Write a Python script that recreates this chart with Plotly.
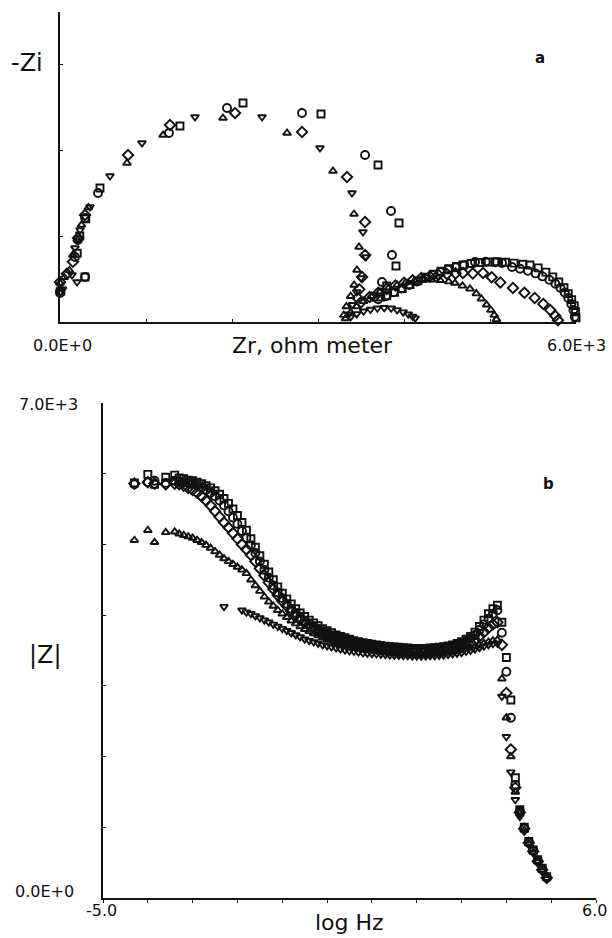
import plotly.graph_objects as go

# ---------------- Panel a : Nyquist (Zr, -Zi), ohm meter ----------------
ZR_CIRCLE = [0, 0, 291, 174, 209, 291, 442, 1267, 1942, 2814, 3547, 3849, 3860, 3744, 3651,
             3700, 3790, 3880, 3970, 4060, 4150, 4240, 4330, 4420, 4510, 4600, 4700, 4826, 4950,
             5060, 5140, 5256, 5350, 5440, 5530, 5610, 5690, 5760, 5820, 5870, 5910, 5945, 5970, 5985]
ZI_CIRCLE = [337, 360, 523, 756, 953, 1209, 1500, 2198, 2488, 2430, 1942, 1291, 779, 465, 291,
             265, 300, 345, 390, 430, 470, 510, 545, 580, 610, 635, 660, 698, 700,
             695, 686, 640, 620, 595, 565, 530, 490, 445, 395, 340, 280, 210, 140, 60]

ZR_SQUARE = [10, 291, 200, 230, 300, 465, 1395, 2128, 3035, 3698, 3942, 3907, 3800, 3730,
             3800, 3890, 3980, 4070, 4160, 4250, 4340, 4430, 4520, 4610, 4686, 4780, 4880, 4980,
             5080, 5180, 5280, 5380, 5465, 5560, 5650, 5730, 5800, 5860, 5910, 5950, 5980, 5995, 6000]
ZI_SQUARE = [360, 523, 800, 1000, 1200, 1558, 2279, 2547, 2419, 1826, 1151, 651, 420, 290,
             305, 345, 390, 435, 480, 520, 555, 590, 620, 645, 663, 680, 692, 698,
             700, 695, 685, 672, 663, 630, 580, 525, 465, 400, 330, 260, 190, 120, 50]

ZR_TRIUP = [0, 50, 110, 150, 200, 250, 330, 779, 1198, 1895, 2640, 3174, 3419, 3477, 3453, 3420,
            3380, 3330, 3300, 3320, 3380, 3450, 3530, 3620, 3720, 3820, 3920, 4020, 4120, 4220,
            4320, 4420, 4520, 4593, 4680, 4767, 4840, 4900, 4960, 5010, 5050, 5075]
ZI_TRIUP = [453, 520, 600, 780, 960, 1130, 1330, 1849, 2174, 2372, 2198, 1756, 1256, 872, 605, 430,
            300, 180, 80, 40, 110, 180, 240, 300, 350, 395, 430, 460, 480, 490,
            492, 485, 470, 453, 420, 385, 330, 270, 200, 140, 80, 30]

ZR_TRIDOWN = [30, 140, 198, 174, 233, 349, 581, 953, 1570, 2349, 3023, 3395, 3523, 3558, 3500,
              3450, 3400, 3360, 3380, 3450, 3530, 3610, 3690, 3770, 3850, 3920, 3990, 4050, 4100, 4130]
ZI_TRIDOWN = [380, 547, 465, 860, 1070, 1337, 1698, 2081, 2384, 2384, 2023, 1500, 1047, 756, 512,
              350, 200, 90, 60, 95, 125, 145, 160, 165, 160, 140, 115, 90, 65, 45]

ZR_DIAMOND = [0, 80, 150, 209, 291, 791, 1279, 2035, 2814, 3337, 3547, 3547, 3512, 3480, 3460,
              3500, 3600, 3700, 3800, 3900, 4000, 4100, 4200, 4300, 4400, 4500, 4600, 4686, 4800,
              4919, 5020, 5120, 5267, 5400, 5520, 5620, 5700, 5760, 5790]
ZI_DIAMOND = [465, 560, 700, 977, 1244, 1942, 2291, 2430, 2209, 1686, 1163, 779, 523, 380, 280,
              230, 290, 340, 385, 425, 455, 485, 510, 530, 548, 558, 565, 570, 565,
              570, 520, 460, 395, 340, 280, 210, 140, 70, 20]

# ---------------- Panel b : Bode |Z| vs log Hz ----------------
LOG_F = [-4.3, -4.0, -3.85, -3.6, -3.4,
         -3.3, -3.2, -3.1, -3.0,
         -2.9, -2.8, -2.7, -2.6, -2.5, -2.4, -2.3, -2.2, -2.1, -2.0,
         -1.9, -1.8, -1.7, -1.6, -1.5, -1.4, -1.3, -1.2, -1.1, -1.0,
         -0.9, -0.8, -0.7, -0.6, -0.5, -0.4, -0.3, -0.2, -0.1, 0.0,
         0.1, 0.2, 0.3, 0.4, 0.5, 0.6, 0.7, 0.8, 0.9, 1.0,
         1.1, 1.2, 1.3, 1.4, 1.5, 1.6, 1.7, 1.8, 1.9, 2.0,
         2.1, 2.2, 2.3, 2.4, 2.5, 2.6, 2.7, 2.8, 2.9, 3.0,
         3.1, 3.2, 3.3, 3.4, 3.5, 3.6, 3.7, 3.8, 3.9, 4.0,
         4.1, 4.2, 4.3, 4.4, 4.5, 4.6, 4.7, 4.8, 4.9]

MODZ_SQUARE = [5870, 5990, 5850, 5950, 5980,
               5940, 5930, 5910, 5900,
               5880, 5860, 5830, 5800, 5760, 5710, 5650, 5580, 5500, 5410,
               5310, 5200, 5080, 4960, 4840, 4720, 4610, 4500, 4400, 4310,
               4230, 4160, 4090, 4030, 3980, 3930, 3890, 3850, 3810, 3780,
               3750, 3720, 3700, 3680, 3660, 3640, 3625, 3610, 3600, 3590,
               3580, 3570, 3560, 3555, 3550, 3545, 3540, 3535, 3530, 3530,
               3530, 3530, 3535, 3540, 3545, 3555, 3565, 3580, 3600, 3625,
               3660, 3700, 3760, 3840, 3930, 4020, 4090, 4140, 3900, 3400,
               2800, 1700, 1250, 1000, 800, 680, 540, 420, 300]

MODZ_CIRCLE = [5850, 5880, 5900, 5870, 5900,
               5890, 5880, 5870, 5850,
               5830, 5800, 5770, 5730, 5680, 5620, 5550, 5470, 5380, 5290,
               5190, 5090, 4990, 4880, 4760, 4640, 4530, 4420, 4320, 4240,
               4160, 4090, 4030, 3970, 3920, 3880, 3840, 3800, 3770, 3740,
               3710, 3690, 3670, 3650, 3630, 3615, 3600, 3590, 3580, 3570,
               3560, 3550, 3540, 3535, 3530, 3525, 3520, 3515, 3510, 3510,
               3510, 3510, 3515, 3520, 3525, 3535, 3545, 3560, 3580, 3600,
               3630, 3670, 3720, 3790, 3870, 3950, 4020, 4070, 3750, 3200,
               2550, 1600, 1230, 990, 790, 670, 530, 410, 290]

MODZ_DIAMOND = [5860, 5880, 5860, 5850, 5860,
                5850, 5830, 5800, 5770,
                5730, 5680, 5620, 5550, 5470, 5390, 5310, 5240, 5160, 5080,
                5000, 4930, 4850, 4760, 4660, 4560, 4460, 4370, 4280, 4200,
                4130, 4060, 4000, 3940, 3890, 3850, 3810, 3770, 3740, 3710,
                3680, 3660, 3640, 3620, 3600, 3585, 3570, 3560, 3550, 3540,
                3530, 3520, 3510, 3505, 3500, 3495, 3490, 3485, 3480, 3480,
                3480, 3480, 3485, 3490, 3495, 3500, 3510, 3520, 3535, 3555,
                3580, 3610, 3650, 3700, 3760, 3820, 3870, 3900, 3580, 2900,
                2100, 1560, 1210, 980, 780, 660, 520, 400, 285]

MODZ_TRIUP = [5060, 5200, 5030, 5170, 5180,
              5150, 5130, 5110, 5090,
              5060, 5030, 4990, 4950, 4900, 4850, 4800, 4760, 4720, 4680,
              4640, 4590, 4500, 4420, 4340, 4260, 4190, 4130, 4070, 4020,
              3970, 3920, 3880, 3840, 3800, 3770, 3740, 3710, 3680, 3660,
              3640, 3620, 3600, 3585, 3570, 3555, 3540, 3530, 3520, 3510,
              3500, 3490, 3480, 3475, 3470, 3465, 3460, 3455, 3450, 3450,
              3450, 3450, 3455, 3460, 3465, 3470, 3475, 3485, 3495, 3505,
              3520, 3535, 3555, 3575, 3600, 3620, 3640, 3650, 3100, 2550,
              2000, 1500, 1200, 960, 770, 650, 520, 390, 280]

MODZ_TRIDOWN = [None, None, None, None, None,
                None, None, None, None,
                None, None, None, None, None, None, 4120, None, None, None,
                4070, 4040, 4020, 3990, 3960, 3930, 3900, 3870, 3840, 3810,
                3780, 3750, 3720, 3690, 3660, 3640, 3620, 3600, 3580, 3565,
                3550, 3535, 3520, 3505, 3495, 3485, 3475, 3465, 3460, 3455,
                3450, 3445, 3440, 3435, 3430, 3430, 3425, 3425, 3420, 3420,
                3420, 3420, 3425, 3425, 3430, 3435, 3440, 3450, 3460, 3470,
                3485, 3500, 3520, 3540, 3560, 3580, 3595, 3600, 2850, 2280,
                1780, 1390, 1150, 940, 760, 640, 510, 380, 270]

for a, b in [(ZR_CIRCLE, ZI_CIRCLE), (ZR_SQUARE, ZI_SQUARE), (ZR_TRIUP, ZI_TRIUP),
             (ZR_TRIDOWN, ZI_TRIDOWN), (ZR_DIAMOND, ZI_DIAMOND)]:
    assert len(a) == len(b), (len(a), len(b))
for m in [MODZ_SQUARE, MODZ_CIRCLE, MODZ_DIAMOND, MODZ_TRIUP, MODZ_TRIDOWN]:
    assert len(m) == len(LOG_F), (len(m), len(LOG_F))

W, H = 612, 938
FONT = "DejaVu Sans"
INK = "#111111"


def px(x):
    return x / W


def py(y):
    return 1 - y / H


series = [
    ("triangle-down-open", 7, ZR_TRIDOWN, ZI_TRIDOWN, MODZ_TRIDOWN),
    ("triangle-up-open", 7, ZR_TRIUP, ZI_TRIUP, MODZ_TRIUP),
    ("diamond-open", 8, ZR_DIAMOND, ZI_DIAMOND, MODZ_DIAMOND),
    ("circle-open", 8, ZR_CIRCLE, ZI_CIRCLE, MODZ_CIRCLE),
    ("square-open", 7, ZR_SQUARE, ZI_SQUARE, MODZ_SQUARE),
]

fig = go.Figure()
for sym, size, zr, zi, mz in series:
    mk = dict(symbol=sym, size=size, color=INK, line=dict(width=1.9, color=INK))
    fig.add_trace(go.Scatter(x=zr, y=zi, mode="markers", marker=mk, cliponaxis=False,
                             xaxis="x", yaxis="y", showlegend=False, hoverinfo="skip"))
    fig.add_trace(go.Scatter(x=LOG_F, y=mz, mode="markers", marker=mk, cliponaxis=False,
                             xaxis="x2", yaxis="y2", showlegend=False, hoverinfo="skip"))

axis_common = dict(showgrid=False, zeroline=False, showline=True, linecolor=INK,
                   linewidth=1.8, showticklabels=False, tickcolor=INK, tickwidth=1.2, ticklen=3)

fig.update_layout(
    width=W, height=H,
    margin=dict(l=0, r=0, t=0, b=0),
    paper_bgcolor="white", plot_bgcolor="white",
    font=dict(family=FONT, color=INK),
    xaxis=dict(axis_common, domain=[px(60), px(576)], range=[0, 6000], anchor="y",
               ticks="inside", tickvals=[0, 1000, 2000, 3000, 4000, 5000, 6000]),
    yaxis=dict(axis_common, domain=[py(322), py(12)], range=[0, 3605], anchor="x",
               ticks="inside", tickvals=[0, 1000, 2000, 3000]),
    xaxis2=dict(axis_common, domain=[px(103), px(596)], range=[-5, 6], anchor="y2",
                ticks="outside", tickvals=list(range(-5, 7))),
    yaxis2=dict(axis_common, domain=[py(898), py(403)], range=[0, 7000], anchor="x2",
                ticks="inside", tickvals=[0, 1000, 2000, 3000, 4000, 5000, 6000, 7000]),
)

texts = [
    ("-Zi", 27, 63, 24, False),
    ("a", 540, 58, 15, True),
    ("0.0E+0", 62, 345, 16, False),
    ("Zr, ohm meter", 312, 345, 22, False),
    ("6.0E+3", 576, 345, 16, False),
    ("7.0E+3", 48, 404, 16, False),
    ("b", 548, 484, 15, True),
    ("|Z|", 45, 655, 24, False),
    ("0.0E+0", 44, 891, 16, False),
    ("-5.0", 101, 910, 16, False),
    ("6.0", 594, 910, 16, False),
    ("log Hz", 349, 922, 22, False),
]
for t, x, y, s, bold in texts:
    fig.add_annotation(text=f"<b>{t}</b>" if bold else t, x=px(x), y=py(y),
                       xref="paper", yref="paper", xanchor="center", yanchor="middle",
                       showarrow=False, font=dict(family=FONT, size=s, color=INK))

fig.write_html("out.html", config={"displayModeBar": False},
               post_script="document.body.style.margin='0';document.body.style.overflow='hidden';")
